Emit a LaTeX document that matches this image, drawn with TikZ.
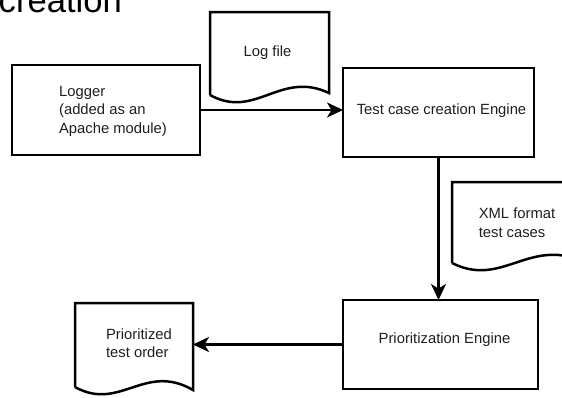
\documentclass[tikz,border=0pt]{standalone}
\usepackage{fontspec}
\setmainfont{Liberation Sans}
\usetikzlibrary{arrows.meta,calc}

% Outline of a flowchart "document" shape around a node:
% #1 node name, #2 width of the node, #3 vertical offset of the wave's right end
\newcommand\docoutline[3]{%
  \draw[shape line] (#1.south west) -- (#1.north west) -- (#1.north east)
    -- ($(#1.south east)+(0,#3)$)
    .. controls ($(#1.south west)+(0.59*#2,-25)$) and ($(#1.south west)+(0.38*#2,25)$)
    .. (#1.south west);}

\begin{document}
\begin{tikzpicture}[x=1pt,y=-1pt,
  shape line/.style={line width=2.5pt, line join=miter},
  txt/.style={text=black!88, font=\fontsize{14.8}{18.5}\selectfont, align=left},
  procbox/.style={draw, shape line, rectangle, inner sep=0pt, outer sep=0pt},
  docnode/.style={rectangle, inner sep=0pt, outer sep=0pt},
  flow/.style={line width=2.5pt, -{Stealth[length=16pt,width=15pt,inset=4.5pt]}}]
\clip (0,0) rectangle (562,397);
\fill[white] (0,0) rectangle (562,397);

% heading, partly above the top edge
\node[anchor=base east, inner sep=0pt, font=\fontsize{34.6}{40}\selectfont] (title) at (122,12) {creation};

% process boxes
\node[procbox, minimum width=188pt, minimum height=90pt,
  label={[txt, xshift=7pt, yshift=-1pt]center:{Logger\\(added as an\\Apache module)}}] (logger) at (106,110) {};
\node[procbox, minimum width=191pt, minimum height=89pt,
  label={[txt, xshift=3pt, yshift=2pt]center:Test case creation Engine}] (tcengine) at (438.5,112.5) {};
\node[procbox, minimum width=195pt, minimum height=89pt,
  label={[txt, xshift=4pt, yshift=5pt]center:Prioritization Engine}] (prioeng) at (440.5,344.5) {};

% documents
\node[docnode, minimum width=119pt, minimum height=83pt,
  label={[txt, xshift=-2pt, yshift=1pt]center:Log file}] (logfile) at (269.5,53.5) {};
\docoutline{logfile}{119}{-2}
\node[docnode, minimum width=130pt, minimum height=81pt,
  label={[txt]center:{XML format\\test cases}}] (xmlcases) at (517,222.5) {};
\docoutline{xmlcases}{130}{-2}
\node[docnode, minimum width=118pt, minimum height=84pt,
  label={[txt, xshift=5pt, yshift=2pt]center:{Prioritized\\test order}}] (prioorder) at (134,345) {};
\docoutline{prioorder}{118}{3}

% flow
\draw[flow] (logger.east) -- (logger.east -| tcengine.west);
\draw[flow] (tcengine.south) -- (tcengine.south |- prioeng.north);
\draw[flow] (prioeng.west) -- (prioeng.west -| prioorder.east);
\end{tikzpicture}
\end{document}
